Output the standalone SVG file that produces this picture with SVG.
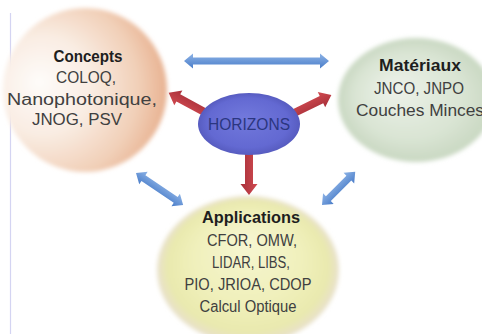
<svg xmlns="http://www.w3.org/2000/svg" width="482" height="334" viewBox="0 0 482 334">
  <defs>
    <filter id="soft" x="-10%" y="-10%" width="120%" height="120%">
      <feGaussianBlur stdDeviation="2"/>
    </filter>
    <radialGradient id="gConcepts" cx="0.27" cy="0.5" r="0.76" fx="0.22" fy="0.45">
      <stop offset="0" stop-color="#fefcfa"/>
      <stop offset="0.4" stop-color="#f9ece2"/>
      <stop offset="0.75" stop-color="#f1cfb7"/>
      <stop offset="1" stop-color="#e6ad8b"/>
    </radialGradient>
    <radialGradient id="gMat" cx="0.5" cy="0.5" r="0.5" fx="0.35" fy="0.4">
      <stop offset="0" stop-color="#edf2ea"/>
      <stop offset="0.7" stop-color="#d9e4d3"/>
      <stop offset="1" stop-color="#c9d8c2"/>
    </radialGradient>
    <radialGradient id="gApp" cx="0.5" cy="0.5" r="0.5" fx="0.5" fy="0.3">
      <stop offset="0" stop-color="#f6f6d2"/>
      <stop offset="0.6" stop-color="#f0f0bb"/>
      <stop offset="0.88" stop-color="#e9e9ae"/>
      <stop offset="1" stop-color="#e8e0cc"/>
    </radialGradient>
    <radialGradient id="gHor" cx="0.5" cy="0.5" r="0.5" fx="0.45" fy="0.4">
      <stop offset="0" stop-color="#7279dc"/>
      <stop offset="0.8" stop-color="#6369d2"/>
      <stop offset="1" stop-color="#575cc0"/>
    </radialGradient>
    <linearGradient id="gBlue" x1="0" y1="0" x2="0" y2="1">
      <stop offset="0" stop-color="#8db3e6"/>
      <stop offset="1" stop-color="#4a7dc9"/>
    </linearGradient>
    <linearGradient id="gRed" x1="0" y1="0" x2="0" y2="1">
      <stop offset="0" stop-color="#d04a50"/>
      <stop offset="1" stop-color="#a8303a"/>
    </linearGradient>
  </defs>
  <style>
    text { font-family: "Liberation Sans", Arial, sans-serif; font-size: 16px; text-anchor: middle; fill: #404040; }
    .title { font-weight: bold; fill: #1e1e1e; }
    .hor { fill: #2b3680; font-size: 16px; }
    .blue { fill: url(#gBlue); }
    .red { fill: url(#gRed); }
    .node { filter: url(#soft); }
  </style>
  <rect width="482" height="334" fill="#ffffff"/>
  <line x1="10.5" y1="13" x2="10.5" y2="334" stroke="#d4d4f2" stroke-width="1.2"/>

  <g id="concepts">
    <circle class="node" cx="85" cy="90" r="82" fill="url(#gConcepts)"/>
    <text class="title" x="88" y="62" textLength="69" lengthAdjust="spacingAndGlyphs">Concepts</text>
    <text x="86" y="83" textLength="60" lengthAdjust="spacingAndGlyphs">COLOQ,</text>
    <text x="82" y="105" textLength="150" lengthAdjust="spacingAndGlyphs">Nanophotonique,</text>
    <text x="77" y="125" textLength="90" lengthAdjust="spacingAndGlyphs">JNOG, PSV</text>
  </g>

  <g id="materiaux">
    <ellipse class="node" cx="416" cy="100" rx="78" ry="62" fill="url(#gMat)"/>
    <text class="title" x="420" y="71" textLength="82" lengthAdjust="spacingAndGlyphs">Matériaux</text>
    <text x="419" y="94" textLength="90" lengthAdjust="spacingAndGlyphs">JNCO, JNPO</text>
    <text x="420" y="116" textLength="128" lengthAdjust="spacingAndGlyphs">Couches Minces</text>
  </g>

  <g id="applications">
    <ellipse class="node" cx="248" cy="270" rx="91" ry="74" fill="url(#gApp)"/>
    <text class="title" x="251" y="223" textLength="98" lengthAdjust="spacingAndGlyphs">Applications</text>
    <text x="252" y="246" textLength="90" lengthAdjust="spacingAndGlyphs">CFOR, OMW,</text>
    <text x="251" y="268" textLength="78" lengthAdjust="spacingAndGlyphs">LIDAR, LIBS,</text>
    <text x="248" y="290" textLength="127" lengthAdjust="spacingAndGlyphs">PIO, JRIOA, CDOP</text>
    <text x="248" y="312" textLength="97" lengthAdjust="spacingAndGlyphs">Calcul Optique</text>
  </g>

  <g id="connectors">
    <polygon class="blue" transform="translate(184,61)" points="0,0 9,-7.5 9,-3.5 136,-3.5 136,-7.5 145,0 136,7.5 136,3.5 9,3.5 9,7.5"/>
    <polygon class="blue" transform="translate(136,173) rotate(34.2)" points="0,0 9,-7.5 9,-3.5 48,-3.5 48,-7.5 57,0 48,7.5 48,3.5 9,3.5 9,7.5"/>
    <polygon class="blue" transform="translate(322,205) rotate(-45)" points="0,0 9,-7.5 9,-3.5 38,-3.5 38,-7.5 47,0 38,7.5 38,3.5 9,3.5 9,7.5"/>
    <polygon class="red" transform="translate(210,115) rotate(208.4)" points="0,-4 36,-4 36,-8.5 47,0 36,8.5 36,4 0,4"/>
    <polygon class="red" transform="translate(290,115) rotate(-25.9)" points="0,-4 35,-4 35,-8.5 46,0 35,8.5 35,4 0,4"/>
    <polygon class="red" transform="translate(249,148) rotate(90)" points="0,-4 36,-4 36,-8.5 47,0 36,8.5 36,4 0,4"/>
  </g>

  <g id="horizons">
    <ellipse cx="249" cy="124" rx="51" ry="31" fill="url(#gHor)"/>
    <text class="hor" x="249" y="130" textLength="82" lengthAdjust="spacingAndGlyphs">HORIZONS</text>
  </g>
</svg>
